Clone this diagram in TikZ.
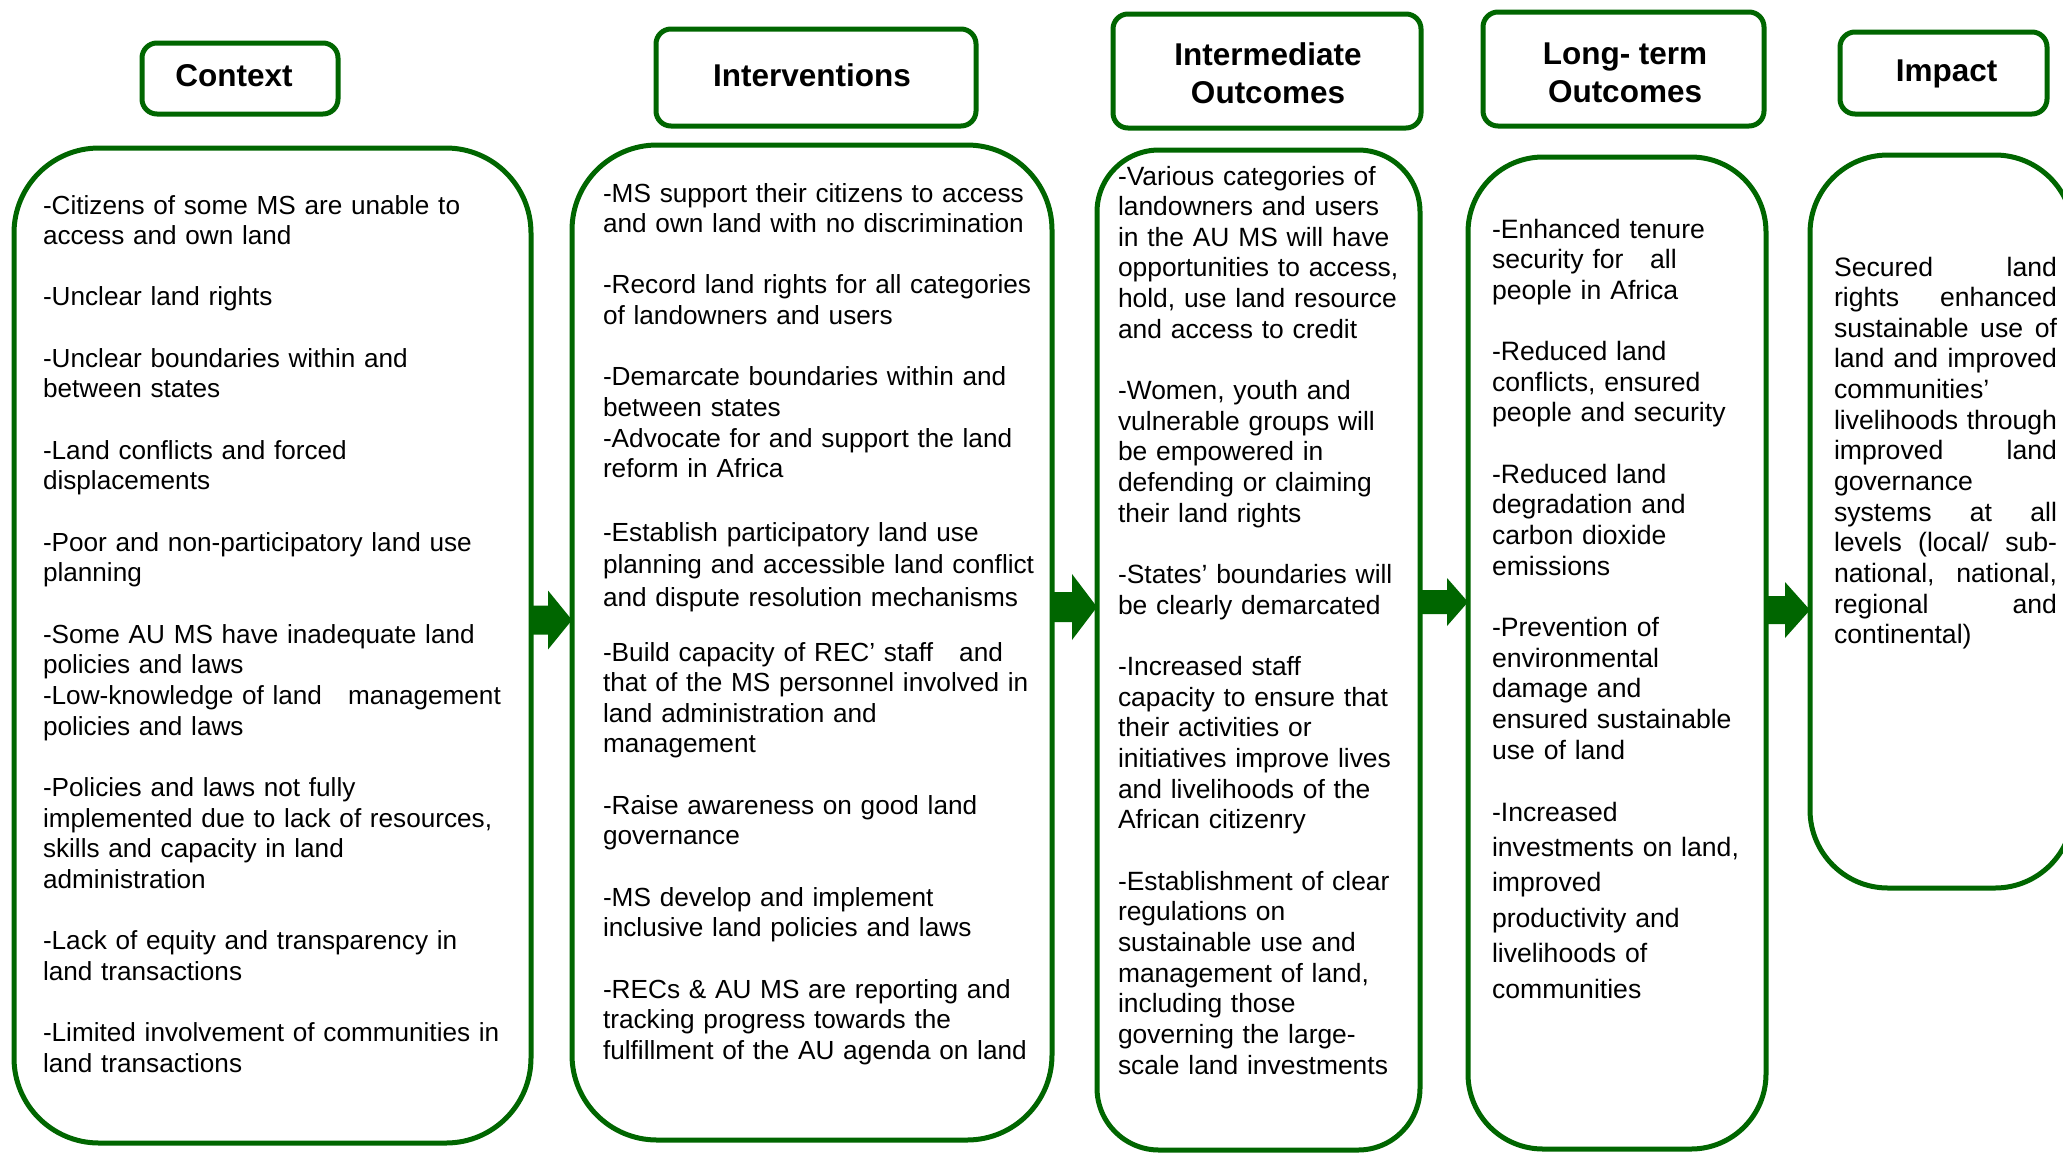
\documentclass[tikz,border=0pt]{standalone}
\usepackage{fontspec}
\setmainfont{Liberation Sans}
\definecolor{dg}{RGB}{0,102,0}
\newcommand\J[1]{\leavevmode\hbox to\linewidth{\spaceskip=0.278em plus 1fil\relax #1}}
\newcommand\gap{\\[\baselineskip]}
\begin{document}
\begin{tikzpicture}[x=1pt,y=-1pt,
  hdr/.style={draw=dg, line width=5pt, rounded corners=15pt, outer sep=0pt, inner sep=0pt},
  hdrtxt/.style={inner sep=0pt, align=center, font=\fontsize{31.5}{38}\selectfont\bfseries},
  cbox/.style={draw=dg, line width=5pt, outer sep=0pt, inner sep=0pt},
  txt/.style={anchor=base west, inner sep=0pt, outer sep=0pt, align=left, font=\fontsize{26.6}{30.66}\selectfont},
  arr/.style={fill=dg, draw=none}]
\useasboundingbox (0,0) rectangle (2063,1152);
\fill[white] (0,0) rectangle (2063,1152);

% headers
\node[hdr, minimum width=196pt, minimum height=71pt] (hctx) at (240,78.5) {};
\node[hdrtxt] (hctxt) at (234,76) {Context};
\node[hdr, minimum width=320pt, minimum height=97pt] (hint) at (816,77.5) {};
\node[hdrtxt] (hintt) at (812,75) {Interventions};
\node[hdr, minimum width=308pt, minimum height=114pt] (himo) at (1267,71) {};
\node[hdrtxt] (himot) at (1268,73.5) {Intermediate\\Outcomes};
\node[hdr, minimum width=281pt, minimum height=114pt] (hlto) at (1623.5,69) {};
\node[hdrtxt] (hltot) at (1625,72.5) {Long- term\\Outcomes};
\node[hdr, minimum width=207pt, minimum height=82pt] (himp) at (1943.5,73) {};
\node[hdrtxt] (himpt) at (1946.5,74) {Impact};

% content boxes
\node[cbox, rounded corners=85pt, minimum width=517pt, minimum height=995pt] (ctx) at (272.5,645.5) {};
\node[cbox, rounded corners=85pt, minimum width=480pt, minimum height=995pt] (int) at (812,642.5) {};
\node[cbox, rounded corners=62pt, minimum width=323pt, minimum height=1000pt] (imo) at (1258.5,650) {};
\node[cbox, rounded corners=75pt, minimum width=298pt, minimum height=992pt] (lto) at (1617,653) {};
\node[cbox, rounded corners=78pt, minimum width=263pt, minimum height=733pt] (imp) at (1941.5,521.5) {};

% arrows
\fill[arr] (ctx.east |- 0,605.5) -- (548,605.5) -- (548,590.5) -- (int.west |- 0,620) -- (548,649.5) -- (548,634.5) -- (ctx.east |- 0,634.5) -- cycle;
\fill[arr] (int.east |- 0,592) -- (1072,592) -- (1072,574) -- (imo.west |- 0,607) -- (1072,640) -- (1072,622) -- (int.east |- 0,622) -- cycle;
\fill[arr] (imo.east |- 0,590) -- (1447,590) -- (1447,578) -- (lto.west |- 0,602) -- (1447,626) -- (1447,614) -- (imo.east |- 0,614) -- cycle;
\fill[arr] (lto.east |- 0,596) -- (1785,596) -- (1785,582) -- (imp.west |- 0,610) -- (1785,638) -- (1785,624) -- (lto.east |- 0,624) -- cycle;

% Context text
\node[txt, text width=480pt, font=\fontsize{26.15}{30.66}\selectfont] (tctx) at (43,214) {-Citizens of some MS are unable to\\access and own land\gap
-Unclear land rights\gap
-Unclear boundaries within and\\between states\gap
-Land conflicts and forced\\displacements\gap
-Poor and non-participatory land use\\planning\gap
-Some AU MS have inadequate land\\policies and laws\\-Low-knowledge of land\ \ \ management\\policies and laws\gap
-Policies and laws not fully\\implemented due to lack of resources,\\skills and capacity in land\\administration\gap
-Lack of equity and transparency in\\land transactions\gap
-Limited involvement of communities in\\land transactions};

% Interventions text
\node[txt, text width=440pt, font=\fontsize{26.2}{30.66}\selectfont] (tinta) at (603,202) {-MS support their citizens to access\\and own land with no discrimination\gap
-Record land rights for all categories\\of landowners and users\gap
-Demarcate boundaries within and\\between states\\-Advocate for and support the land\\reform in Africa};
\node[txt, text width=440pt, font=\fontsize{26.2}{32.9}\selectfont] (tintb) at (603,541) {-Establish participatory land use\\planning and accessible land conflict\\and dispute resolution mechanisms};
\node[txt, text width=440pt, font=\fontsize{26.2}{30.66}\selectfont] (tintc) at (603,661) {-Build capacity of REC’ staff\ \ \ and\\that of the MS personnel involved in\\land administration and\\management\gap
-Raise awareness on good land\\governance\gap
-MS develop and implement\\inclusive land policies and laws\gap
-RECs \& AU MS are reporting and\\tracking progress towards the\\fulfillment of the AU agenda on land};

% Intermediate outcomes text
\node[txt, text width=295pt, font=\fontsize{26.4}{30.66}\selectfont] (timo) at (1118,185) {-Various categories of\\landowners and users\\in the AU MS will have\\opportunities to access,\\hold, use land resource\\and access to credit\gap
-Women, youth and\\vulnerable groups will\\be empowered in\\defending or claiming\\their land rights\gap
-States’ boundaries will\\be clearly demarcated\gap
-Increased staff\\capacity to ensure that\\their activities or\\initiatives improve lives\\and livelihoods of the\\African citizenry\gap
-Establishment of clear\\regulations on\\sustainable use and\\management of land,\\including those\\governing the large-\\scale land investments};

% Long-term outcomes text
\node[txt, text width=265pt] (tltoa) at (1492,238) {-Enhanced tenure\\security for\ \ \ all\\people in Africa\gap
-Reduced land\\conflicts, ensured\\people and security\gap
-Reduced land\\degradation and\\carbon dioxide\\emissions\gap
-Prevention of\\environmental\\damage and\\ensured sustainable\\use of land};
\node[txt, text width=265pt, font=\fontsize{26.6}{35.4}\selectfont] (tltob) at (1492,821) {-Increased\\investments on land,\\improved\\productivity and\\livelihoods of\\communities};

% Impact text
\node[txt, text width=223pt] (timp) at (1834,276) {\J{Secured land}\\\J{rights enhanced}\\\J{sustainable use of}\\\J{land and improved}\\communities’\\\J{livelihoods through}\\\J{improved land}\\governance\\\J{systems at all}\\\J{levels (local/ sub-}\\\J{national, national,}\\\J{regional and}\\continental)};
\end{tikzpicture}
\end{document}
